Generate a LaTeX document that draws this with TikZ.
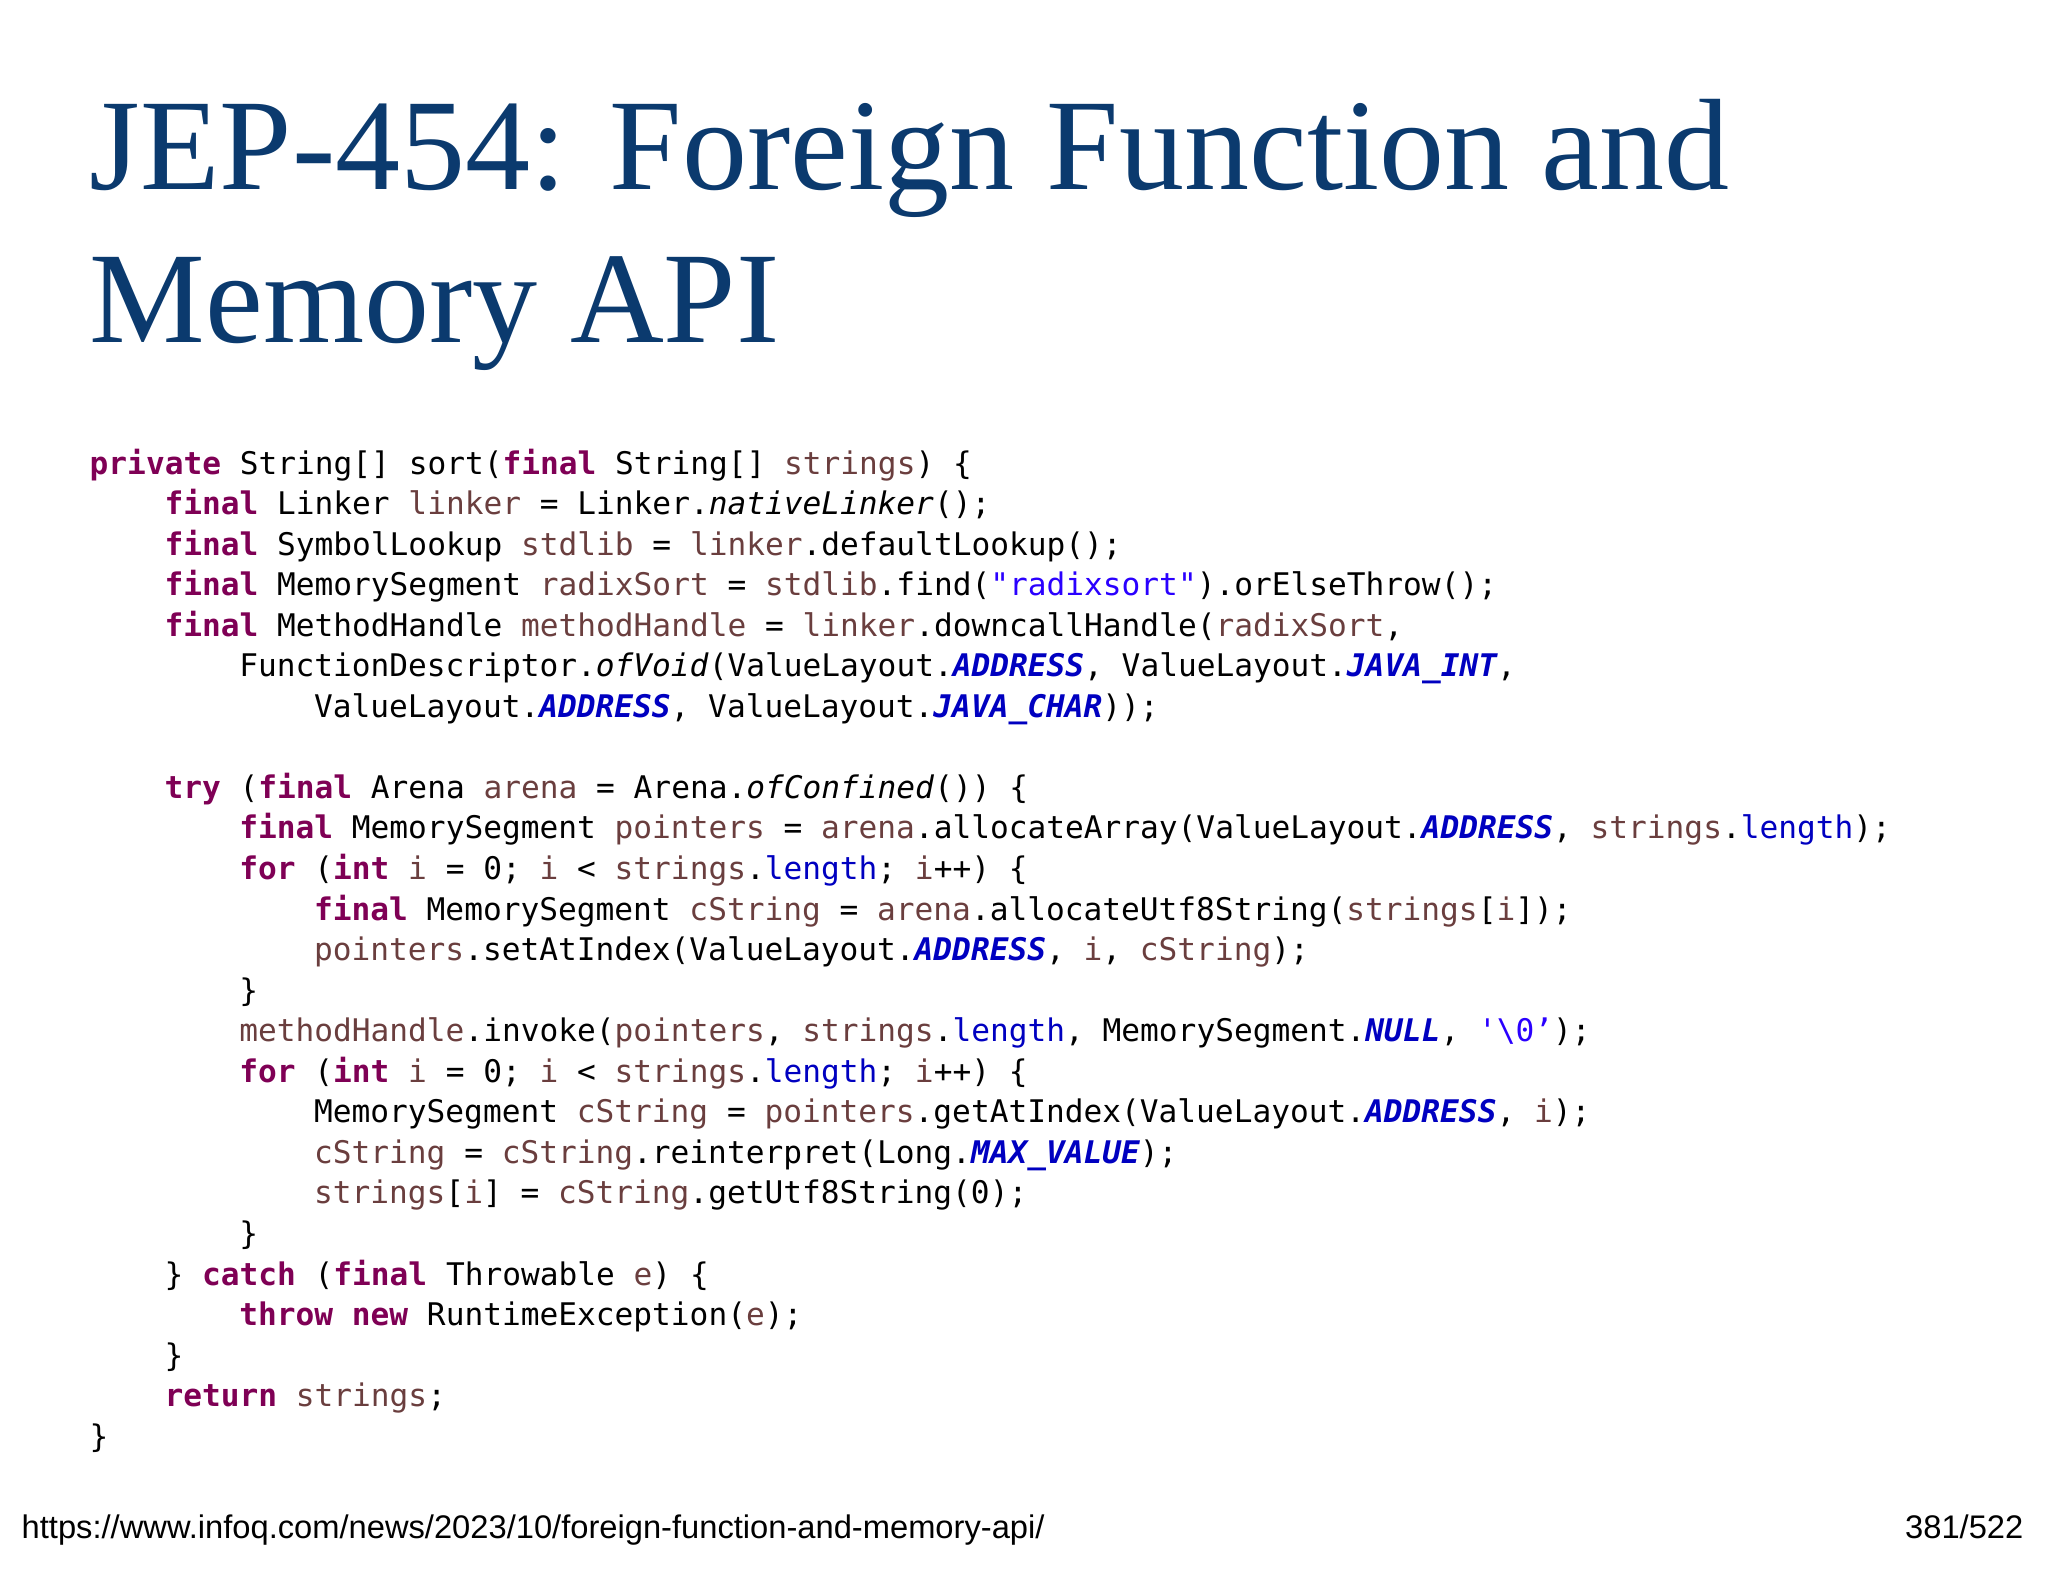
\documentclass[tikz,border=0pt]{standalone}
\usepackage{fontspec}
\setmainfont{Liberation Serif}
\setmonofont{DejaVu Sans Mono}
\newfontfamily\footfont{Liberation Sans}
\definecolor{titleblue}{HTML}{0B3A6E}
\definecolor{kwcol}{HTML}{7F0055}
\definecolor{varcol}{HTML}{6A3E3E}
\definecolor{strcol}{HTML}{2A00FF}
\definecolor{cncol}{HTML}{0000C0}
\newcommand\jkw[1]{\textcolor{kwcol}{\bfseries #1}}
\newcommand\jvr[1]{\textcolor{varcol}{#1}}
\newcommand\jst[1]{\textcolor{strcol}{#1}}
\newcommand\jcn[1]{\textcolor{cncol}{\bfseries\itshape #1}}
\newcommand\jfd[1]{\textcolor{cncol}{#1}}
\begin{document}
\begin{tikzpicture}[x=1mm,y=1mm,
  codeline/.style={anchor=base west,inner sep=0pt,font=\ttfamily\fontsize{8.87pt}{10pt}\selectfont},
  titleline/.style={anchor=base west,inner sep=0pt,text=titleblue,font=\fontsize{37pt}{40pt}\selectfont},
  foot/.style={inner sep=0pt,font=\footfont\fontsize{9.3pt}{11pt}\selectfont}]
\useasboundingbox (0,0) rectangle (204.8,-158.2);
\node[titleline] (t1) at (8.9,-18.9) {JEP-454: Foreign Function and};
\node[titleline] (t2) at (8.9,-34.2) {Memory API};
\def\ind{7.48}
\def\y#1{-47.4-(#1-1)*4.055}
\node[codeline] (l1) at (8.9,{\y{1}}) {\jkw{private} String[] sort(\jkw{final} String[] \jvr{strings}) \{};
\node[codeline] (l2) at (8.9+\ind,{\y{2}}) {\jkw{final} Linker \jvr{linker} = Linker.\textit{nativeLinker}();};
\node[codeline] (l3) at (8.9+\ind,{\y{3}}) {\jkw{final} SymbolLookup \jvr{stdlib} = \jvr{linker}.defaultLookup();};
\node[codeline] (l4) at (8.9+\ind,{\y{4}}) {\jkw{final} MemorySegment \jvr{radixSort} = \jvr{stdlib}.find(\jst{"radixsort"}).orElseThrow();};
\node[codeline] (l5) at (8.9+\ind,{\y{5}}) {\jkw{final} MethodHandle \jvr{methodHandle} = \jvr{linker}.downcallHandle(\jvr{radixSort},};
\node[codeline] (l6) at (8.9+2*\ind,{\y{6}}) {FunctionDescriptor.\textit{ofVoid}(ValueLayout.\jcn{ADDRESS}, ValueLayout.\jcn{JAVA\_INT},};
\node[codeline] (l7) at (8.9+3*\ind,{\y{7}}) {ValueLayout.\jcn{ADDRESS}, ValueLayout.\jcn{JAVA\_CHAR}));};
\node[codeline] (l9) at (8.9+\ind,{\y{9}}) {\jkw{try} (\jkw{final} Arena \jvr{arena} = Arena.\textit{ofConfined}()) \{};
\node[codeline] (l10) at (8.9+2*\ind,{\y{10}}) {\jkw{final} MemorySegment \jvr{pointers} = \jvr{arena}.allocateArray(ValueLayout.\jcn{ADDRESS}, \jvr{strings}.\jfd{length});};
\node[codeline] (l11) at (8.9+2*\ind,{\y{11}}) {\jkw{for} (\jkw{int} \jvr{i} = 0; \jvr{i} < \jvr{strings}.\jfd{length}; \jvr{i}++) \{};
\node[codeline] (l12) at (8.9+3*\ind,{\y{12}}) {\jkw{final} MemorySegment \jvr{cString} = \jvr{arena}.allocateUtf8String(\jvr{strings}[\jvr{i}]);};
\node[codeline] (l13) at (8.9+3*\ind,{\y{13}}) {\jvr{pointers}.setAtIndex(ValueLayout.\jcn{ADDRESS}, \jvr{i}, \jvr{cString});};
\node[codeline] (l14) at (8.9+2*\ind,{\y{14}}) {\}};
\node[codeline] (l15) at (8.9+2*\ind,{\y{15}}) {\jvr{methodHandle}.invoke(\jvr{pointers}, \jvr{strings}.\jfd{length}, MemorySegment.\jcn{NULL}, \jst{'\textbackslash0’});};
\node[codeline] (l16) at (8.9+2*\ind,{\y{16}}) {\jkw{for} (\jkw{int} \jvr{i} = 0; \jvr{i} < \jvr{strings}.\jfd{length}; \jvr{i}++) \{};
\node[codeline] (l17) at (8.9+3*\ind,{\y{17}}) {MemorySegment \jvr{cString} = \jvr{pointers}.getAtIndex(ValueLayout.\jcn{ADDRESS}, \jvr{i});};
\node[codeline] (l18) at (8.9+3*\ind,{\y{18}}) {\jvr{cString} = \jvr{cString}.reinterpret(Long.\jcn{MAX\_VALUE});};
\node[codeline] (l19) at (8.9+3*\ind,{\y{19}}) {\jvr{strings}[\jvr{i}] = \jvr{cString}.getUtf8String(0);};
\node[codeline] (l20) at (8.9+2*\ind,{\y{20}}) {\}};
\node[codeline] (l21) at (8.9+\ind,{\y{21}}) {\} \jkw{catch} (\jkw{final} Throwable \jvr{e}) \{};
\node[codeline] (l22) at (8.9+2*\ind,{\y{22}}) {\jkw{throw} \jkw{new} RuntimeException(\jvr{e});};
\node[codeline] (l23) at (8.9+\ind,{\y{23}}) {\}};
\node[codeline] (l24) at (8.9+\ind,{\y{24}}) {\jkw{return} \jvr{strings};};
\node[codeline] (l25) at (8.9,{\y{25}}) {\}};
\node[foot,anchor=base west] (url) at (2.1,-153.8) {https://www.infoq.com/news/2023/10/foreign-function-and-memory-api/};
\node[foot,anchor=base east] (pg) at (202.4,-153.8) {381/522};
\end{tikzpicture}
\end{document}
